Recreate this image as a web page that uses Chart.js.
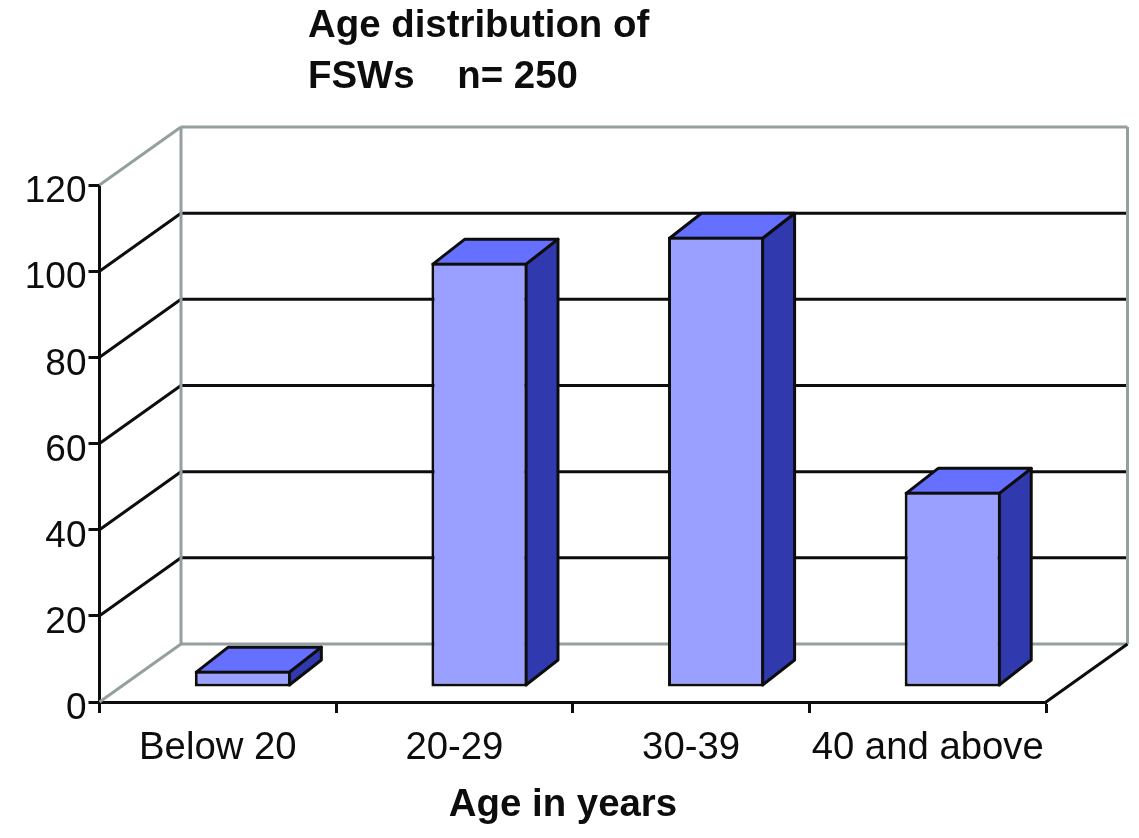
<!DOCTYPE html>
<html>
<head>
<meta charset="utf-8">
<title>Age distribution of FSWs</title>
<script src="https://cdn.jsdelivr.net/npm/chart.js@4/dist/chart.umd.min.js"></script>
<style>
    html, body { margin: 0; padding: 0; background: #ffffff; }
    canvas { display: block; }
</style>
</head>
<body>
<canvas id="ageChart" width="1139" height="838"></canvas>
<script>
const categories = ["Below 20", "20-29", "30-39", "40 and above"];
const counts = [3.8, 98.5, 104.5, 45.3];
const titleLines = ["Age distribution of", "FSWs    n= 250"];
const xAxisTitle = "Age in years";

const FONT = "'Liberation Sans', Arial, sans-serif";
const INK = "#0d0d0d";
const WALL = "#94a09f";

// depth of the fake 3D box and of the bars standing in it
const WALL_DX = 81.5, WALL_DY = -58;
const BAR_SHIFT_X = 25, BAR_SHIFT_Y = -15;
const BAR_DX = 32, BAR_DY = -25;

function line(ctx, x1, y1, x2, y2, color) {
    ctx.strokeStyle = color;
    ctx.beginPath();
    ctx.moveTo(x1, y1);
    ctx.lineTo(x2, y2);
    ctx.stroke();
}

function face(ctx, points, fill) {
    ctx.fillStyle = fill;
    ctx.strokeStyle = INK;
    ctx.beginPath();
    points.forEach((p, i) => (i ? ctx.lineTo(p[0], p[1]) : ctx.moveTo(p[0], p[1])));
    ctx.closePath();
    ctx.fill();
    ctx.stroke();
}

const box3d = {
    id: "box3d",
    beforeDatasetsDraw(chart) {
        const { ctx, chartArea: area, scales } = chart;
        const backLeft = area.left + WALL_DX;
        const backRight = area.right + WALL_DX;

        ctx.save();
        ctx.lineWidth = 3;
        ctx.lineJoin = "round";

        // gridlines run along the side wall, then along the back wall
        scales.y.ticks.forEach((tick) => {
            const y = scales.y.getPixelForValue(tick.value);
            if (tick.value === 0 || tick.value === scales.y.max) return;
            line(ctx, area.left, y, backLeft, y + WALL_DY, INK);
            line(ctx, backLeft, y + WALL_DY, backRight, y + WALL_DY, INK);
        });

        const top = area.top + WALL_DY;
        const floor = area.bottom + WALL_DY;
        line(ctx, area.left, area.top, backLeft, top, WALL);
        line(ctx, backLeft, top, backRight, top, WALL);
        line(ctx, backLeft, top, backLeft, floor, WALL);
        line(ctx, backRight, top, backRight, floor, WALL);
        line(ctx, backLeft, floor, backRight, floor, WALL);
        line(ctx, area.left, area.bottom, backLeft, floor, WALL);
        line(ctx, area.right, area.bottom, backRight, floor, INK);

        // top and side faces of each bar
        chart.getDatasetMeta(0).data.forEach((bar) => {
            const x0 = bar.x - bar.width / 2 + BAR_SHIFT_X + 1.5;
            const x1 = bar.x + bar.width / 2 + BAR_SHIFT_X - 1.5;
            const yTop = bar.y + BAR_SHIFT_Y + 1.5;
            const yBase = bar.base + BAR_SHIFT_Y - 1.5;
            face(ctx, [[x1, yTop], [x1 + BAR_DX, yTop + BAR_DY], [x1 + BAR_DX, yBase + BAR_DY], [x1, yBase]], "#303aae");
            face(ctx, [[x0, yTop], [x0 + BAR_DX, yTop + BAR_DY], [x1 + BAR_DX, yTop + BAR_DY], [x1, yTop]], "#6670ff");
        });
        ctx.restore();

        // front faces come from the library, just moved onto the floor
        ctx.save();
        ctx.translate(BAR_SHIFT_X, BAR_SHIFT_Y);
    },
    afterDatasetsDraw(chart) {
        chart.ctx.restore();
    },
    afterDraw(chart) {
        const { ctx } = chart;
        ctx.save();
        ctx.font = "bold 38.4px " + FONT;
        ctx.fillStyle = INK;
        ctx.textBaseline = "alphabetic";
        ctx.fillText(titleLines[0], 308, 37);
        ctx.fillText(titleLines[1], 308, 88);
        ctx.textAlign = "center";
        ctx.fillText(xAxisTitle, 563, 816);
        ctx.restore();
    },
};

new Chart(document.getElementById("ageChart"), {
    type: "bar",
    data: {
        labels: categories,
        datasets: [
            {
                data: counts,
                backgroundColor: "#99a0ff",
                borderColor: INK,
                borderWidth: 3,
                borderSkipped: false,
                categoryPercentage: 1,
                barPercentage: 0.406,
                clip: false,
            },
        ],
    },
    options: {
        responsive: false,
        animation: false,
        devicePixelRatio: 1,
        layout: { padding: { left: 0, top: 185, right: 93, bottom: 0 } },
        plugins: {
            legend: { display: false },
            title: { display: false },
            tooltip: { enabled: false },
        },
        scales: {
            x: {
                border: { color: INK, width: 3 },
                grid: { drawOnChartArea: false, drawTicks: true, tickLength: 11, tickColor: INK, tickWidth: 3 },
                ticks: {
                    color: INK,
                    font: { family: FONT, size: 38.3 },
                    padding: 12,
                    maxRotation: 0,
                    autoSkip: false,
                },
                afterFit(scale) {
                    scale.height = 136;
                    scale.paddingLeft = 0;
                    scale.paddingRight = 0;
                },
            },
            y: {
                min: 0,
                max: 120,
                border: { color: INK, width: 3 },
                grid: { drawOnChartArea: false, drawTicks: true, tickLength: 11, tickColor: INK, tickWidth: 3 },
                ticks: {
                    stepSize: 20,
                    color: INK,
                    font: { family: FONT, size: 37 },
                    padding: 2,
                    labelOffset: 7,
                },
                afterFit(scale) {
                    scale.width = 99.5;
                    scale.paddingTop = 0;
                    scale.paddingBottom = 0;
                },
            },
        },
    },
    plugins: [box3d],
});
</script>
</body>
</html>
